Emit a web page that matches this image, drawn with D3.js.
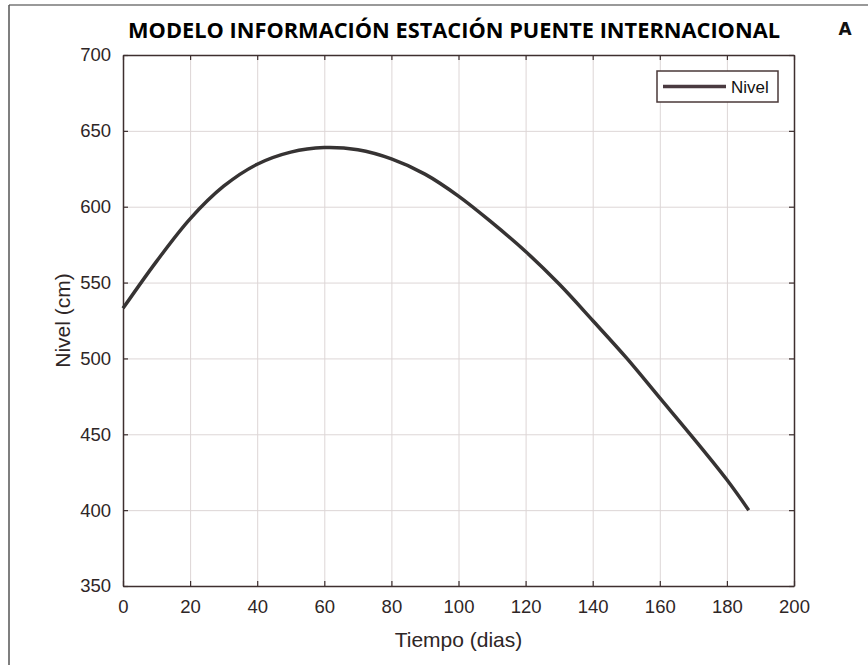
<!DOCTYPE html>
<html>
<head>
<meta charset="utf-8">
<script src="https://cdn.jsdelivr.net/npm/d3@7"></script>
<style>
  body { margin: 0; background: #fff; }
  svg { display: block; }
  .tick text { font-family: "Liberation Sans", Arial, sans-serif; fill: #2e2626; }
</style>
</head>
<body>
<div id="chart"></div>
<script>
// values (Tiempo in days, Nivel in cm)
const dias = [0, 10, 20, 30, 40, 50, 60, 70, 80, 90, 100, 110, 120, 130, 140, 150, 160, 170, 180, 186.5];
const nivel = [533, 564, 592, 613.5, 628, 636, 639, 637.5, 631.5, 621.5, 607, 589.5, 570.5, 549, 525, 500.5, 474, 447.5, 420, 400];
const xTicks = [0, 20, 40, 60, 80, 100, 120, 140, 160, 180, 200];
const yTicks = [350, 400, 450, 500, 550, 600, 650, 700];

const title = 'MODELO INFORMACIÓN ESTACIÓN PUENTE INTERNACIONAL';
const seriesName = 'Nivel';

const W = 868, H = 667;
const margin = {top: 55, right: 74, bottom: 81, left: 123};
const width = W - margin.left - margin.right;
const height = H - margin.top - margin.bottom;

const axisColor = '#3d2f2f';
const gridColor = '#ddd6d6';

const svg = d3.select('#chart').append('svg')
  .attr('width', W)
  .attr('height', H);

// outer frame (only top and left edges are visible)
svg.append('line').attr('x1', 9).attr('y1', 5).attr('x2', W).attr('y2', 5)
  .attr('stroke', '#777').attr('stroke-width', 1.5);
svg.append('line').attr('x1', 9).attr('y1', 5).attr('x2', 9).attr('y2', 665)
  .attr('stroke', '#555').attr('stroke-width', 1.5);

const x = d3.scaleLinear().domain([0, 200]).range([0, width]);
const y = d3.scaleLinear().domain([350, 700]).range([height, 0]);

const g = svg.append('g')
  .attr('transform', `translate(${margin.left}, ${margin.top})`);

// grid
g.append('g')
  .attr('class', 'grid')
  .attr('transform', `translate(0, ${height})`)
  .call(d3.axisBottom(x).tickValues(xTicks).tickSize(-height).tickFormat(''))
  .call(s => s.select('.domain').remove())
  .call(s => s.selectAll('line').attr('stroke', gridColor).attr('stroke-width', 1));
g.append('g')
  .attr('class', 'grid')
  .call(d3.axisLeft(y).tickValues(yTicks).tickSize(-width).tickFormat(''))
  .call(s => s.select('.domain').remove())
  .call(s => s.selectAll('line').attr('stroke', gridColor).attr('stroke-width', 1));

// axes with inward ticks on all four sides
const styleAxis = s => {
  s.select('.domain').attr('stroke', axisColor).attr('stroke-width', 1.5);
  s.selectAll('.tick line').attr('stroke', axisColor).attr('stroke-width', 1.2);
};

g.append('g')
  .attr('transform', `translate(0, ${height})`)
  .call(d3.axisBottom(x).tickValues(xTicks).tickSizeInner(-5).tickSizeOuter(0).tickPadding(14))
  .call(styleAxis)
  .call(s => s.selectAll('.tick text').attr('font-size', 18.5));

g.append('g')
  .call(d3.axisTop(x).tickValues(xTicks).tickSizeInner(-5).tickSizeOuter(0).tickFormat(''))
  .call(styleAxis);

g.append('g')
  .call(d3.axisLeft(y).tickValues(yTicks).tickSizeInner(-5).tickSizeOuter(0).tickPadding(12))
  .call(styleAxis)
  .call(s => s.selectAll('.tick text').attr('font-size', 18.5));

g.append('g')
  .attr('transform', `translate(${width}, 0)`)
  .call(d3.axisRight(y).tickValues(yTicks).tickSizeInner(-5).tickSizeOuter(0).tickFormat(''))
  .call(styleAxis);

// the series
const data = dias.map((d, i) => [d, nivel[i]]);
const line = d3.line()
  .x(d => x(d[0]))
  .y(d => y(d[1]))
  .curve(d3.curveCatmullRom);

g.append('path')
  .datum(data)
  .attr('fill', 'none')
  .attr('stroke', '#363333')
  .attr('stroke-width', 3.5)
  .attr('d', line);

// axis labels
svg.append('text')
  .attr('x', margin.left + width / 2)
  .attr('y', 647)
  .attr('text-anchor', 'middle')
  .attr('font-family', '"Liberation Sans", Arial, sans-serif')
  .attr('font-size', 21)
  .attr('fill', '#2e2626')
  .text('Tiempo (dias)');

svg.append('text')
  .attr('transform', `translate(70, ${margin.top + height / 2}) rotate(-90)`)
  .attr('text-anchor', 'middle')
  .attr('font-family', '"Liberation Sans", Arial, sans-serif')
  .attr('font-size', 21)
  .attr('fill', '#2e2626')
  .text('Nivel (cm)');

// title
svg.append('text')
  .attr('x', 454)
  .attr('y', 38)
  .attr('text-anchor', 'middle')
  .attr('font-family', '"Open Sans", sans-serif')
  .attr('font-weight', 700)
  .attr('font-size', 21)
  .attr('textLength', 652)
  .attr('lengthAdjust', 'spacingAndGlyphs')
  .attr('fill', '#000')
  .text(title);

// panel letter
svg.append('text')
  .attr('x', 845)
  .attr('y', 35)
  .attr('text-anchor', 'middle')
  .attr('font-family', '"DejaVu Sans", sans-serif')
  .attr('font-weight', 700)
  .attr('font-size', 17)
  .attr('fill', '#111')
  .text('A');

// legend
const legend = g.append('g')
  .attr('transform', `translate(${657 - margin.left}, ${71 - margin.top})`);
legend.append('rect')
  .attr('width', 121)
  .attr('height', 31)
  .attr('fill', '#fff')
  .attr('stroke', '#4a3838')
  .attr('stroke-width', 1.5);
legend.append('line')
  .attr('x1', 6).attr('x2', 69)
  .attr('y1', 15.5).attr('y2', 15.5)
  .attr('stroke', '#4a3a40')
  .attr('stroke-width', 3.5);
legend.append('text')
  .attr('x', 74)
  .attr('y', 22)
  .attr('font-family', '"Liberation Sans", Arial, sans-serif')
  .attr('font-size', 17)
  .attr('fill', '#111')
  .text(seriesName);
</script>
</body>
</html>
